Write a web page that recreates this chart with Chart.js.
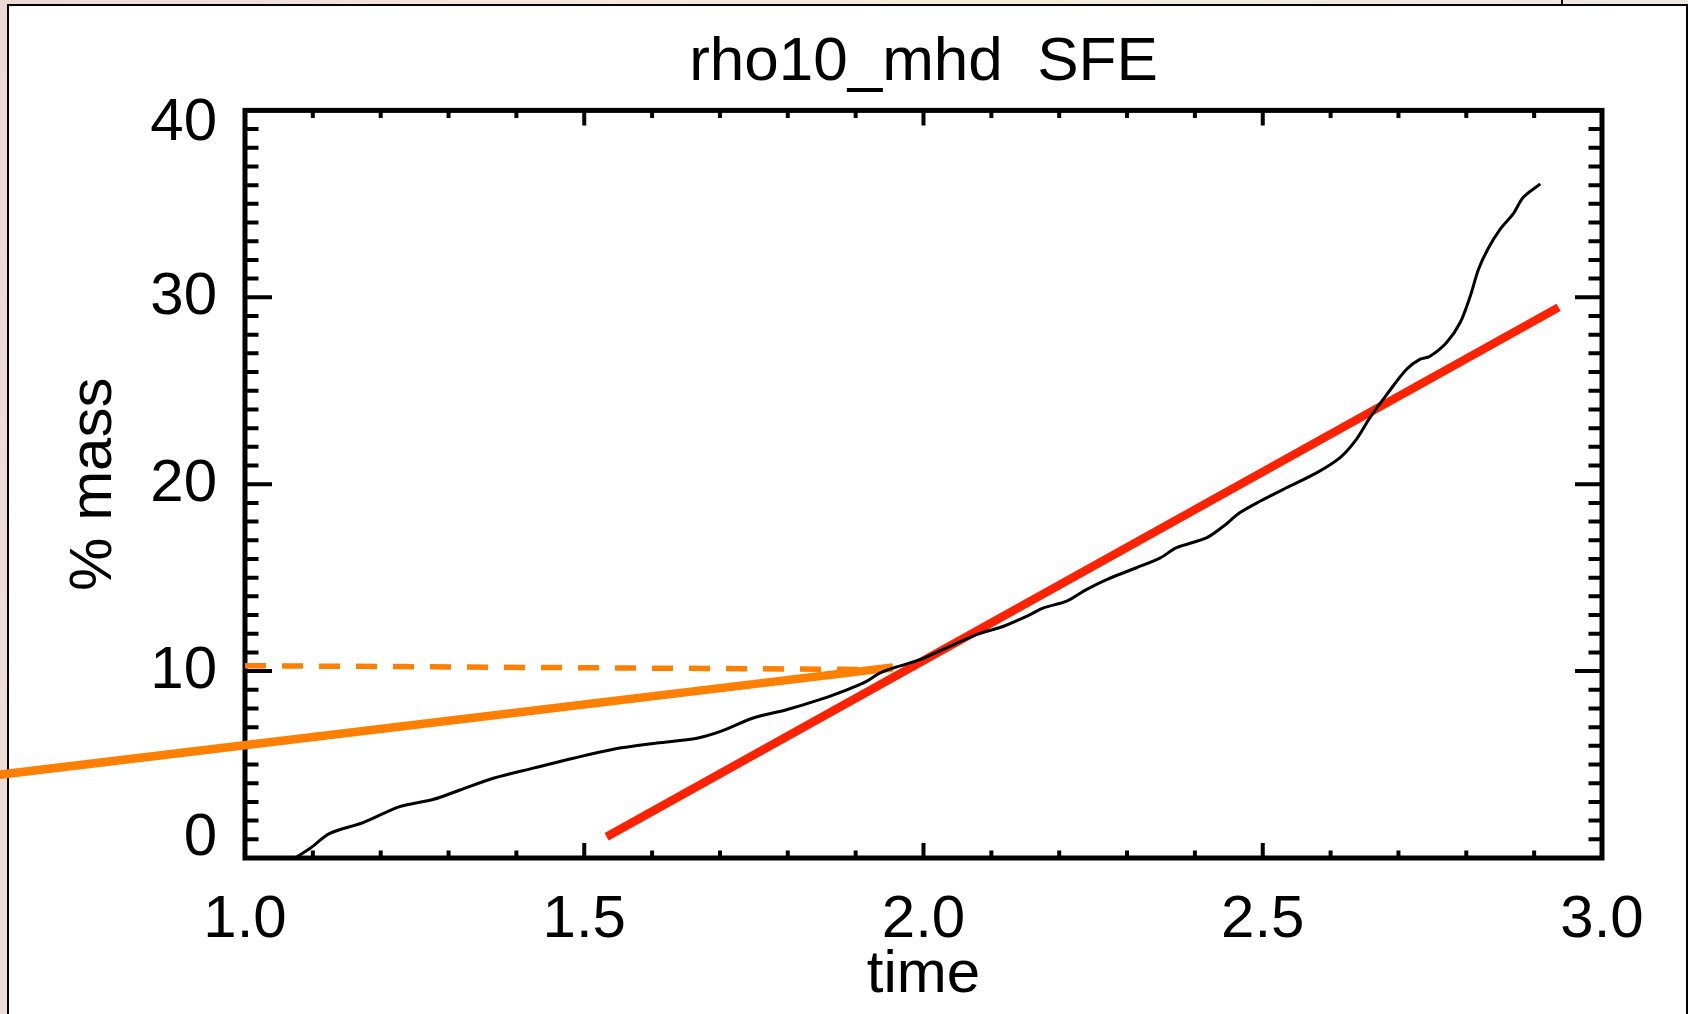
<!DOCTYPE html>
<html>
<head>
<meta charset="utf-8">
<title>rho10_mhd SFE</title>
<script src="https://cdn.jsdelivr.net/npm/chart.js@4.4.0/dist/chart.umd.min.js"></script>
<style>
  html, body { margin: 0; padding: 0; width: 1688px; height: 1014px; overflow: hidden; }
  body {
    position: relative;
    background: linear-gradient(100deg, #ecd9d6 0%, #f4e4da 25%, #f7ecdc 55%, #efe6de 80%, #e9e4e2 100%);
  }
  #panel {
    position: absolute; left: 7px; top: 4px;
    width: 1677px; height: 1100px;
    background: #fff; border: 2px solid #000;
  }
  #sep { position: absolute; left: 1561px; top: 0; width: 2px; height: 5px; background: #000; }
  #chart { position: absolute; left: 0; top: 0; }
</style>
</head>
<body>
<div id="sep"></div>
<div id="panel"></div>
<canvas id="chart" width="1688" height="1014"></canvas>
<script>
// SFE curve
const sfeTime = [1.074, 1.096, 1.125, 1.174, 1.228, 1.278, 1.317, 1.366, 1.425, 1.484,
  1.543, 1.607, 1.666, 1.703, 1.749, 1.798, 1.847, 1.887, 1.916, 1.936,
  1.960, 1.995, 2.034, 2.078, 2.118, 2.152, 2.177, 2.211, 2.240, 2.270,
  2.314, 2.349, 2.373, 2.417, 2.442, 2.466, 2.496, 2.535, 2.580, 2.614,
  2.638, 2.658, 2.683, 2.712, 2.732, 2.746, 2.771, 2.791, 2.806, 2.818,
  2.832, 2.850, 2.869, 2.884, 2.909];
const sfeMass = [0, 0.52, 1.32, 1.89, 2.75, 3.14, 3.64, 4.27, 4.81, 5.34,
  5.82, 6.15, 6.41, 6.80, 7.49, 7.93, 8.47, 9.00, 9.45, 9.90,
  10.22, 10.61, 11.24, 11.95, 12.40, 12.93, 13.38, 13.74, 14.36, 14.90,
  15.53, 16.06, 16.60, 17.13, 17.75, 18.47, 19.09, 19.81, 20.62, 21.42,
  22.40, 23.56, 24.81, 26.15, 26.69, 26.83, 27.58, 28.65, 30.08, 31.50,
  32.60, 33.65, 34.46, 35.35, 36.07];

// fitted lines
const earlyFitTime = [0.62, 1.955];
const earlyFitMass = [4.38, 10.2];
const levelTime = [1.0, 1.953];
const levelMass = [10.29, 10.08];
const lateFitTime = [1.533, 2.936];
const lateFitMass = [1.14, 29.46];

// axes
const xTickValues = [1.0, 1.5, 2.0, 2.5, 3.0];
const xTickLabels = ['1.0', '1.5', '2.0', '2.5', '3.0'];
const yTickValues = [0, 10, 20, 30, 40];
const yTickLabels = ['0', '10', '20', '30', '40'];

const fontFamily = "'Liberation Sans', Arial, Helvetica, sans-serif";

function toPoints(xs, ys) {
    return xs.map((x, i) => ({ x: x, y: ys[i] }));
}

// IDL style box with inward ticks on all four sides
const framePlugin = {
    id: 'frame',
    beforeDatasetsDraw(chart) {
        const { ctx, chartArea: a, scales: { x, y } } = chart;
        ctx.save();
        ctx.strokeStyle = '#000';
        ctx.lineCap = 'butt';
        ctx.lineWidth = 4;
        ctx.beginPath();
        for (let i = 1; i < 20; i++) {
            const px = x.getPixelForValue(1 + i * 0.1);
            const len = i % 5 === 0 ? 15 : 7.5;
            ctx.moveTo(px, a.bottom); ctx.lineTo(px, a.bottom - len);
            ctx.moveTo(px, a.top); ctx.lineTo(px, a.top + len);
        }
        for (let i = 1; i < 40; i++) {
            const py = y.getPixelForValue(i);
            const len = i % 10 === 0 ? 27 : 13.5;
            ctx.moveTo(a.left, py); ctx.lineTo(a.left + len, py);
            ctx.moveTo(a.right, py); ctx.lineTo(a.right - len, py);
        }
        ctx.stroke();
        ctx.lineWidth = 5;
        ctx.lineJoin = 'miter';
        ctx.strokeRect(a.left, a.top, a.right - a.left, a.bottom - a.top);
        ctx.restore();
    }
};

const ctx = document.getElementById('chart').getContext('2d');
const chart = new Chart(ctx, {
    type: 'line',
    data: {
        datasets: [
            {
                label: 'SFE',
                data: toPoints(sfeTime, sfeMass),
                borderColor: '#000000',
                borderWidth: 3,
                pointRadius: 0,
                tension: 0.3,
                fill: false
            },
            {
                label: 'level',
                data: toPoints(levelTime, levelMass),
                borderColor: '#ff7f00',
                borderWidth: 5.5,
                borderDash: [21, 16],
                borderCapStyle: 'butt',
                pointRadius: 0,
                fill: false
            },
            {
                label: 'early fit',
                data: toPoints(earlyFitTime, earlyFitMass),
                borderColor: '#ff7f00',
                borderWidth: 8.5,
                borderCapStyle: 'butt',
                pointRadius: 0,
                fill: false,
                clip: false
            },
            {
                label: 'late fit',
                data: toPoints(lateFitTime, lateFitMass),
                borderColor: '#ff2200',
                borderWidth: 8.5,
                borderCapStyle: 'butt',
                pointRadius: 0,
                fill: false,
                clip: false
            }
        ]
    },
    options: {
        responsive: false,
        animation: false,
        events: [],
        layout: { padding: { left: 0, right: 86, top: 0, bottom: 0 } },
        plugins: {
            legend: { display: false },
            tooltip: { enabled: false },
            title: {
                display: true,
                fullSize: false,
                text: 'rho10_mhd  SFE',
                color: '#000',
                font: { family: fontFamily, size: 62, weight: 'normal', lineHeight: 1.2 },
                padding: { top: 26, bottom: 10 }
            }
        },
        scales: {
            x: {
                type: 'linear',
                min: 1,
                max: 3,
                afterFit: s => { s.height = 156; },
                afterBuildTicks: s => { s.ticks = xTickValues.map(v => ({ value: v })); },
                grid: { display: false },
                border: { display: false },
                ticks: {
                    color: '#000',
                    padding: 18,
                    maxRotation: 0,
                    autoSkip: false,
                    font: { family: fontFamily, size: 60 },
                    callback: (v, i) => xTickLabels[i]
                },
                title: {
                    display: true,
                    text: 'time',
                    color: '#000',
                    font: { family: fontFamily, size: 60 },
                    padding: { top: 0, bottom: 3 }
                }
            },
            y: {
                type: 'linear',
                min: 0,
                max: 40,
                afterFit: s => { s.width = 245; },
                afterBuildTicks: s => { s.ticks = yTickValues.map(v => ({ value: v })); },
                grid: { display: false },
                border: { display: false },
                ticks: {
                    color: '#000',
                    padding: 20,
                    autoSkip: false,
                    // bottom and top labels sit inside the axis range, as in the original
                    font: c => ({
                        family: fontFamily,
                        size: 60,
                        lineHeight: c.index === 0 ? 0.667 : (c.index === yTickValues.length - 1 ? 0.433 : 1.2)
                    }),
                    callback: (v, i) => {
                        if (i === 0) return [yTickLabels[i], ''];
                        if (i === yTickValues.length - 1) return ['', yTickLabels[i]];
                        return yTickLabels[i];
                    }
                },
                title: {
                    display: true,
                    text: '% mass',
                    color: '#000',
                    font: { family: fontFamily, size: 60 },
                    padding: { top: 58, bottom: 0 }
                }
            }
        }
    },
    plugins: [framePlugin]
});
</script>
</body>
</html>
